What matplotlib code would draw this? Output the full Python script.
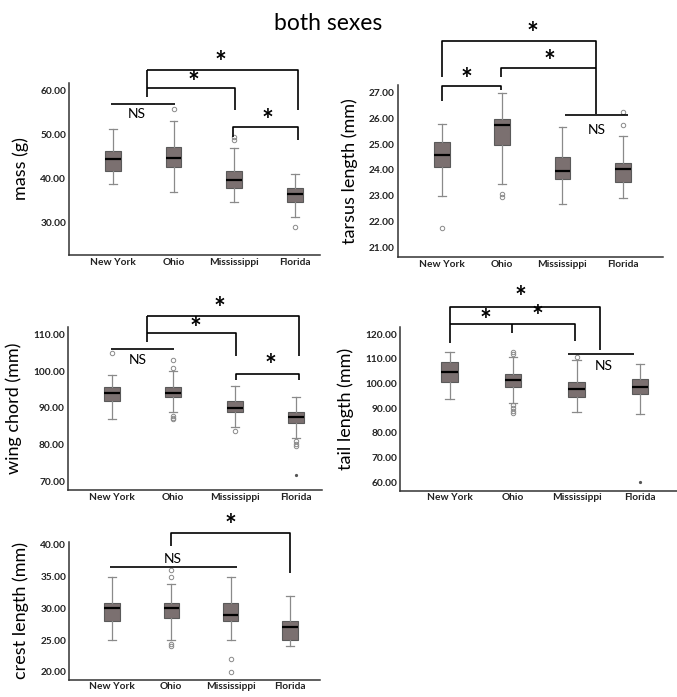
import numpy as np
import matplotlib
matplotlib.use('Agg')
from matplotlib import pyplot as plt

plt.rcParams['font.family'] = ['Lato', 'DejaVu Sans']

groups = ['New York', 'Ohio', 'Mississippi', 'Florida']

# box statistics: whisker low, q1, median, q3, whisker high, outliers
mass_lo = [38.8, 37.0, 34.7, 31.4]
mass_q1 = [41.7, 42.7, 38.0, 34.8]
mass_med = [44.6, 44.8, 39.8, 36.5]
mass_q3 = [46.4, 47.2, 41.8, 38.0]
mass_hi = [51.4, 53.1, 46.9, 41.2]
mass_out = [[], [55.9], [48.9, 49.6], [29.1]]
mass_extreme = [[], [], [], []]

tarsus_lo = [23.0, 23.46, 22.67, 22.9]
tarsus_q1 = [24.13, 24.96, 23.65, 23.53]
tarsus_med = [24.58, 25.76, 23.97, 24.02]
tarsus_q3 = [25.09, 25.97, 24.52, 24.28]
tarsus_hi = [25.78, 27.0, 25.68, 25.33]
tarsus_out = [[21.75], [23.05, 22.94], [], [26.26, 25.73]]
tarsus_extreme = [[], [], [], []]

wing_lo = [86.9, 88.8, 84.9, 81.9]
wing_q1 = [92.0, 92.9, 88.9, 86.0]
wing_med = [94.0, 94.0, 90.1, 87.5]
wing_q3 = [95.8, 95.8, 91.8, 88.9]
wing_hi = [99.0, 99.95, 96.0, 92.9]
wing_out = [[104.8], [102.9, 100.9, 87.8, 87.3, 86.9], [83.8], [81.0, 80.2, 79.7]]
wing_extreme = [[], [], [], [71.8]]

tail_lo = [93.9, 92.0, 88.6, 87.7]
tail_q1 = [100.5, 98.8, 94.7, 95.7]
tail_med = [104.9, 101.5, 97.8, 98.8]
tail_q3 = [108.6, 103.8, 100.7, 101.8]
tail_hi = [112.7, 110.7, 109.6, 107.8]
tail_out = [[], [113.0, 112.0, 91.4, 90.3, 89.1, 87.9], [110.8], []]
tail_extreme = [[], [], [], [60.3]]

crest_lo = [25.0, 25.0, 25.0, 24.0]
crest_q1 = [28.0, 28.5, 28.0, 25.0]
crest_med = [30.0, 30.0, 29.0, 27.0]
crest_q3 = [30.9, 30.9, 30.9, 28.0]
crest_hi = [34.9, 33.9, 34.9, 32.0]
crest_out = [[], [36.0, 34.9, 24.4, 24.0], [22.0, 20.0], []]
crest_extreme = [[], [], [], []]

yticks_mass = [30, 40, 50, 60]
yticks_tarsus = [21, 22, 23, 24, 25, 26, 27]
yticks_wing = [70, 80, 90, 100, 110]
yticks_tail = [60, 70, 80, 90, 100, 110, 120]
yticks_crest = [20, 25, 30, 35, 40]

fig = plt.figure(figsize=(6.77, 6.97), dpi=100)
fig.text(0.485, 0.967, 'both sexes', ha='center', va='center', fontsize=16.5)

box_face = '#7b7070'
box_edge = '#5a5a5a'
whisk_col = '#8a8a8a'


def draw_panel(rect, lo, q1, med, q3, hi, out, extreme, ylabel, yticks, xlim, ylim):
    ax = fig.add_axes(rect)
    stats = []
    for i in range(len(groups)):
        stats.append({'whislo': lo[i], 'q1': q1[i], 'med': med[i], 'q3': q3[i],
                      'whishi': hi[i], 'fliers': out[i], 'label': groups[i]})
    ax.bxp(stats, positions=[1, 2, 3, 4], widths=0.26, capwidths=0.13, patch_artist=True,
           boxprops=dict(facecolor=box_face, edgecolor=box_edge, linewidth=0.8),
           medianprops=dict(color='black', linewidth=1.6),
           whiskerprops=dict(color=whisk_col, linewidth=0.9),
           capprops=dict(color=whisk_col, linewidth=0.9),
           flierprops=dict(marker='o', markersize=3.2, markerfacecolor='none',
                           markeredgecolor='#8a8a8a', markeredgewidth=0.7))
    for i in range(len(groups)):
        if extreme[i]:
            ax.plot([i + 1] * len(extreme[i]), extreme[i], linestyle='none', marker='o',
                    markersize=1.3, color='#555555')
    ax.set_xlim(xlim)
    ax.set_ylim(ylim)
    ax.set_yticks(yticks)
    ax.set_yticklabels(['%.2f' % t for t in yticks])
    ax.set_xticks([1, 2, 3, 4])
    ax.set_xticklabels(groups)
    ax.tick_params(length=0, labelsize=7.3, colors='#222222', pad=2)
    for lab in ax.get_xticklabels() + ax.get_yticklabels():
        lab.set_fontweight('bold')
    ax.spines['top'].set_visible(False)
    ax.spines['right'].set_visible(False)
    ax.spines['left'].set_color('#333333')
    ax.spines['bottom'].set_color('#333333')
    ax.spines['left'].set_linewidth(1.1)
    ax.spines['bottom'].set_linewidth(1.1)
    ax.set_ylabel(ylabel, fontsize=13, labelpad=8)
    return ax


def line(ax, xs, ys):
    ax.plot(xs, ys, color='black', linewidth=1.2, clip_on=False, solid_capstyle='butt')


def star(ax, x, y):
    ax.text(x, y, '*', ha='center', va='center', fontsize=20, fontweight='bold', clip_on=False)


def ns(ax, x, y):
    ax.text(x, y, 'NS', ha='center', va='center', fontsize=10, clip_on=False)


# mass
ax1 = draw_panel([0.1019, 0.6341, 0.3708, 0.2468], mass_lo, mass_q1, mass_med, mass_q3, mass_hi,
                 mass_out, mass_extreme, 'mass (g)', yticks_mass, (0.28, 4.41), (22.7, 61.75))
line(ax1, [0.97, 2.02], [57.0, 57.0])
ns(ax1, 1.40, 54.7)
line(ax1, [1.56, 1.56], [58.6, 64.7])
line(ax1, [1.56, 4.05, 4.05], [64.7, 64.7, 55.6])
line(ax1, [1.56, 3.01, 3.01], [60.7, 60.7, 55.6])
star(ax1, 2.78, 66.4)
star(ax1, 2.32, 61.8)
line(ax1, [2.98, 2.98, 4.05, 4.05], [49.4, 51.75, 51.75, 48.8])
star(ax1, 3.54, 53.2)

# tarsus
ax2 = draw_panel([0.5874, 0.6309, 0.3923, 0.2471], tarsus_lo, tarsus_q1, tarsus_med, tarsus_q3,
                 tarsus_hi, tarsus_out, tarsus_extreme, 'tarsus length (mm)', yticks_tarsus,
                 (0.27, 4.67), (20.61, 27.3))
line(ax2, [1.0, 1.0, 1.99, 1.99], [26.69, 27.26, 27.26, 27.10])
star(ax2, 1.41, 27.5)
line(ax2, [1.0, 1.0, 3.55, 3.55], [27.6, 29.02, 29.02, 26.16])
star(ax2, 2.51, 29.3)
line(ax2, [1.99, 1.99, 3.55], [27.6, 27.95, 27.95])
star(ax2, 2.78, 28.2)
line(ax2, [3.05, 4.09], [26.15, 26.15])
ns(ax2, 3.56, 25.55)

# wing chord
ax3 = draw_panel([0.1, 0.297, 0.3752, 0.2343], wing_lo, wing_q1, wing_med, wing_q3, wing_hi,
                 wing_out, wing_extreme, 'wing chord (mm)', yticks_wing, (0.28, 4.42), (67.7, 112.06))
line(ax3, [0.98, 2.01], [105.9, 105.9])
ns(ax3, 1.42, 103.0)
line(ax3, [1.58, 1.58], [108.0, 115.05])
line(ax3, [1.58, 4.05, 4.05], [115.05, 115.05, 104.1])
line(ax3, [1.58, 3.02, 3.02], [110.27, 110.27, 104.1])
star(ax3, 2.76, 116.8)
star(ax3, 2.36, 111.4)
line(ax3, [3.02, 3.02, 4.05, 4.05], [97.6, 99.14, 99.14, 97.6])
star(ax3, 3.58, 101.4)

# tail
ax4 = draw_panel([0.5908, 0.296, 0.4092, 0.2353], tail_lo, tail_q1, tail_med, tail_q3, tail_hi,
                 tail_out, tail_extreme, 'tail length (mm)', yticks_tail, (0.22, 4.58), (56.6, 123.1))
line(ax4, [1.0, 1.0, 3.37, 3.37], [116.6, 131.2, 131.2, 113.6])
line(ax4, [1.0, 2.98, 2.98], [124.05, 124.05, 117.3])
line(ax4, [1.98, 1.98], [124.05, 120.6])
star(ax4, 2.11, 134.8)
star(ax4, 1.56, 125.6)
star(ax4, 2.39, 127.0)
line(ax4, [2.86, 3.91], [112.0, 112.0])
ns(ax4, 3.42, 107.3)

# crest (lifted a little so the state names are not cut at the bottom edge)
ax5 = draw_panel([0.1019, 0.025, 0.3715, 0.1978], crest_lo, crest_q1, crest_med, crest_q3, crest_hi,
                 crest_out, crest_extreme, 'crest length (mm)', yticks_crest, (0.28, 4.51), (18.78, 40.48))
line(ax5, [0.97, 3.10], [36.44, 36.44])
ns(ax5, 2.02, 37.7)
line(ax5, [2.0, 2.0, 3.99, 3.99], [39.75, 41.9, 41.9, 35.6])
star(ax5, 2.99, 42.9)

fig.savefig('out.png', dpi=100)
